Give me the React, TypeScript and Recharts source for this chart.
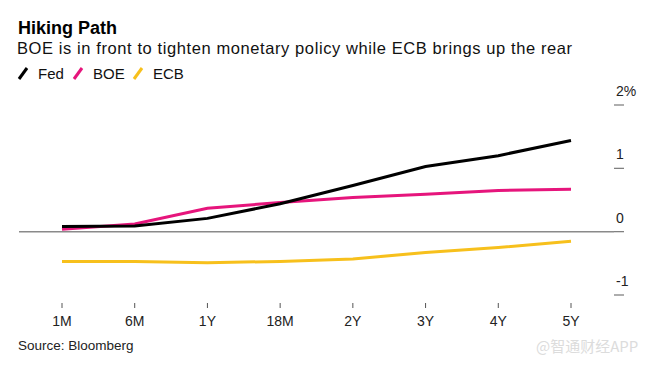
import React from "react";
import { LineChart, Line, XAxis, YAxis, ReferenceLine } from "recharts";

const categories = ["1M", "6M", "1Y", "18M", "2Y", "3Y", "4Y", "5Y"];
const fed = [0.08, 0.09, 0.21, 0.44, 0.73, 1.03, 1.2, 1.44];
const boe = [0.04, 0.12, 0.37, 0.46, 0.54, 0.59, 0.65, 0.67];
const ecb = [-0.47, -0.47, -0.49, -0.47, -0.43, -0.33, -0.25, -0.15];
const yTicks = [-1, 0, 1, 2];
const yTickLabels: Record<number, string> = { "-1": "-1", "0": "0", "1": "1", "2": "2%" };

const data = categories.map((c, i) => ({ name: c, fed: fed[i], boe: boe[i], ecb: ecb[i] }));

const FONT = "'Liberation Sans', Arial, Helvetica, sans-serif";

const RightTick = (props: any) => {
  const { x, y, payload } = props;
  return (
    <g>
      <line x1={x} x2={x + 10} y1={y} y2={y} stroke="#777" strokeWidth={1.2} />
      <text x={x + 2} y={y - 9} fontSize={14} fill="#222" fontFamily={FONT} textAnchor="start">
        {yTickLabels[payload.value]}
      </text>
    </g>
  );
};

const BottomTick = (props: any) => {
  const { x, y, payload } = props;
  return (
    <g>
      <line x1={x} x2={x} y1={y} y2={y + 5} stroke="#555" strokeWidth={1} />
      <text x={x} y={y + 23} fontSize={14} fill="#222" fontFamily={FONT} textAnchor="middle">
        {payload.value}
      </text>
    </g>
  );
};

const LegendItem = ({ x, color, label }: { x: number; color: string; label: string }) => (
  <g>
    <line x1={x} y1={79} x2={x + 8} y2={68} stroke={color} strokeWidth={3} />
    <text x={x + 19} y={78.5} fontSize={15} fill="#111" fontFamily={FONT}>
      {label}
    </text>
  </g>
);

export default function App() {
  return (
    <div style={{ position: "absolute", left: 0, top: 0, width: 654, height: 368, background: "#fff" }}>
      <svg width={654} height={368} style={{ position: "absolute", left: 0, top: 0 }}>
        <text x={18} y={34} fontSize={18} fontWeight="bold" fill="#000" fontFamily={FONT}>
          Hiking Path
        </text>
        <text
          x={17}
          y={54}
          fontSize={16.5}
          fill="#111"
          fontFamily={FONT}
          textLength={555}
          lengthAdjust="spacing"
        >
          BOE is in front to tighten monetary policy while ECB brings up the rear
        </text>
        <LegendItem x={19} color="#000" label="Fed" />
        <LegendItem x={74} color="#e6157c" label="BOE" />
        <LegendItem x={134} color="#f7c01c" label="ECB" />
        <text x={18} y={350} fontSize={13.5} fill="#222" fontFamily={FONT}>
          Source: Bloomberg
        </text>
        <text x={536} y={352} fontSize={15} fill="#dcdcdc" fontFamily="'Noto Sans CJK SC', sans-serif">
          @智通财经APP
        </text>
      </svg>
      <div style={{ position: "absolute", left: 0, top: 0 }}>
        <LineChart
          width={654}
          height={368}
          data={data}
          margin={{ top: 105, right: 10, bottom: 43, left: 19 }}
        >
          <XAxis
            dataKey="name"
            axisLine={false}
            tickLine={false}
            tick={<BottomTick />}
            height={30}
            interval={0}
            padding={{ left: 43, right: 43 }}
          />
          <YAxis
            orientation="right"
            domain={[-1, 2]}
            ticks={yTicks}
            axisLine={false}
            tickLine={false}
            tickSize={0}
            tickMargin={0}
            width={30}
            tick={<RightTick />}
            interval={0}
          />
          <ReferenceLine y={0} stroke="#8a8a8a" strokeWidth={1.5} />
          <Line type="linear" dataKey="ecb" stroke="#f7c01c" strokeWidth={3} dot={false} isAnimationActive={false} />
          <Line type="linear" dataKey="boe" stroke="#e6157c" strokeWidth={3} dot={false} isAnimationActive={false} />
          <Line type="linear" dataKey="fed" stroke="#000" strokeWidth={3} dot={false} isAnimationActive={false} />
        </LineChart>
      </div>
    </div>
  );
}
